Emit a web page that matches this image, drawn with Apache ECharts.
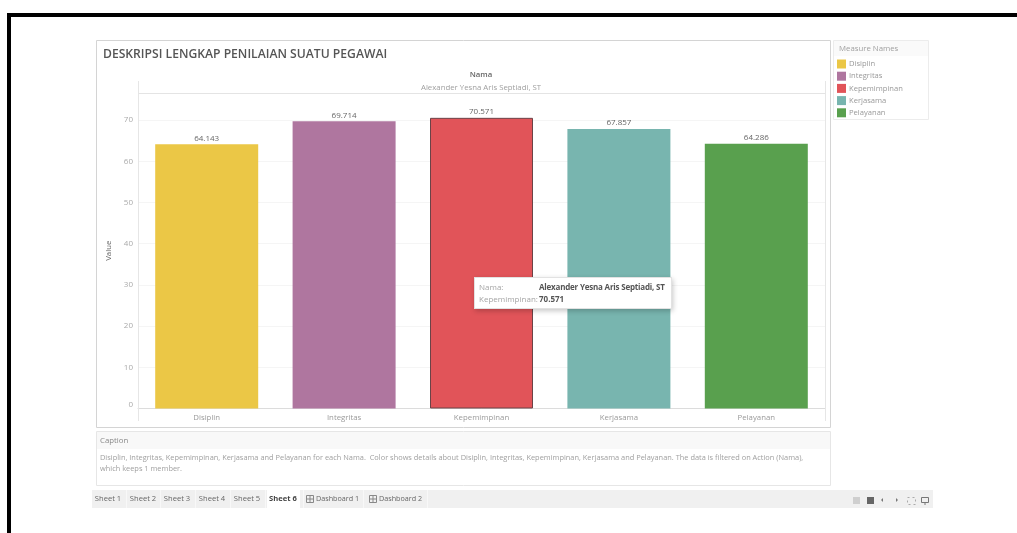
<!DOCTYPE html>
<html><head><meta charset="utf-8">
<style>html,body{margin:0;padding:0;background:#fff}#c{width:1017px;height:533px;filter:blur(0.45px)}</style>
<script src="https://cdn.jsdelivr.net/npm/echarts@6/dist/echarts.min.js"></script>
</head><body><div id="c"></div>
<script>
const categories = ['Disiplin','Integritas','Kepemimpinan','Kerjasama','Pelayanan'];
const values = [64.143,69.714,70.571,67.857,64.286];
const colors = ['#EBC746','#AF769F','#E15459','#78B5AF','#59A04E'];
const person = 'Alexander Yesna Aris Septiadi, ST';
const tabs = ['Sheet 1','Sheet 2','Sheet 3','Sheet 4','Sheet 5','Sheet 6'];
const dashboards = ['Dashboard 1','Dashboard 2'];
const captionLines = [
 'Disiplin, Integritas, Kepemimpinan, Kerjasama and Pelayanan for each Nama.  Color shows details about Disiplin, Integritas, Kepemimpinan, Kerjasama and Pelayanan. The data is filtered on Action (Nama),',
 'which keeps 1 member.'];
const font = '"Open Sans", sans-serif';
const chart = echarts.init(document.getElementById('c'), null, {renderer:'canvas'});

const g = [];
const rect = (x,y,w,h,fill,stroke,z) => g.push({type:'rect',silent:true,z:z||0,shape:{x,y,width:w,height:h},style:{fill:fill||'transparent',stroke:stroke||null,lineWidth:1}});
const line = (x1,y1,x2,y2,stroke,z) => g.push({type:'line',silent:true,z:z||0,shape:{x1,y1,x2,y2},style:{stroke,lineWidth:1}});
const text = (x,y,t,o={}) => g.push({type:'text',silent:true,z:5,x,y,style:{text:t,fill:o.fill||'#9a9a9a',font:(o.weight||'400')+' '+(o.size||8)+'px '+font,align:o.align||'left',verticalAlign:'middle'}});

// page border
rect(7,13,1010,4,'#000'); rect(7,13,4,520,'#000');
// worksheet frame
rect(96.5,40.5,734,387,'#fff','#d4d4d4');
text(103,55,'DESKRIPSI LENGKAP PENILAIAN SUATU PEGAWAI',{size:12.15,weight:'600',fill:'#555'});
text(481,75,'Nama',{align:'center',weight:'600',fill:'#666',size:7.8});
text(481,87.5,person,{align:'center',size:7.8,fill:'#a0a0a0'});
line(138.5,81,138.5,421,'#e6e6e6',1); line(825.5,81,825.5,421,'#e6e6e6',1);
line(138.5,93.5,825.5,93.5,'#e4e4e4',1);
// legend panel
rect(833.5,40.5,95,79,'#fff','#ececec'); rect(834,41,94,15,'#fafafa');
text(839,48.5,'Measure Names',{size:7.8,fill:'#a0a0a0'});
// caption
rect(96.5,431.5,734,54,'#fff','#e6e6e6'); rect(97,432,733,17,'#f8f8f8');
text(100,441,'Caption',{fill:'#888',size:7.8});
captionLines.forEach((t,i)=>text(100,458+i*10.7,t,{size:7.42,fill:'#a0a0a0'}));
// tab bar
rect(92,490,841,18,'#f0f0f0');
const tabX=[108,143,177,212,247,283];
rect(267,490,33,18,'#fff');
tabs.forEach((t,i)=>text(tabX[i],499,t,{align:'center',size:7.6,weight:i===5?'700':'400',fill:i===5?'#444':'#666'}));
[126,160,195,230,265,303,363,427].forEach(x=>line(x+.5,490,x+.5,508,'#f8f8f8'));
[[306,316,dashboards[0]],[369,379,dashboards[1]]].forEach(([ix,tx,t])=>{
  rect(ix+.5,495.5,7,7,null,'#888');line(ix+4,495.5,ix+4,502.5,'#888');line(ix+.5,499,ix+7.5,499,'#888');
  text(tx,499,t,{size:7.2,fill:'#666'});
});
// toolbar icons
rect(853,497,7,7,'#cfcfcf'); rect(867,497,7,7,'#666');
g.push({type:'polygon',silent:true,shape:{points:[[883,498],[883,502],[881,500]]},style:{fill:'#777'}});
g.push({type:'polygon',silent:true,shape:{points:[[896,498],[896,502],[898,500]]},style:{fill:'#777'}});
g.push({type:'rect',silent:true,shape:{x:907.5,y:497.5,width:8,height:7},style:{fill:'transparent',stroke:'#aaa',lineWidth:1,lineDash:[2,3]}});
rect(921.5,497.5,7,5,null,'#777'); line(925,503,925,505,'#777');

const series = categories.map((c,i)=>({
  name:c,type:'bar',stack:'m',barWidth:103,
  data:categories.map((_,j)=> j===i ? (i===2 ? {value:values[i],itemStyle:{borderColor:'#6b4347',borderWidth:1}} : values[i]) : null),
  itemStyle:{color:colors[i]},
  label:{show:true,position:'top',distance:2,fontFamily:font,fontSize:8,color:'#666',formatter:p=>p.value.toFixed(3)},
  emphasis:{disabled:true},animation:false
}));

chart.setOption({
  animation:false,
  textStyle:{fontFamily:font},
  graphic:g,
  grid:{left:138,right:192,top:93,bottom:124.5,containLabel:false},
  legend:{orient:'vertical',left:837,top:59.5,padding:0,itemWidth:9,itemHeight:9,itemGap:3.2,icon:'rect',
    data:categories,selectedMode:false,textStyle:{fontFamily:font,fontSize:7.6,color:'#999',padding:[0,0,0,-2]}},
  xAxis:{type:'category',data:categories,axisTick:{show:false},
    axisLine:{lineStyle:{color:'#dcdcdc'}},
    axisLabel:{fontSize:7.8,color:'#9a9a9a',margin:5,fontFamily:font},splitLine:{show:false}},
  yAxis:{type:'value',min:0,max:76.6,interval:10,name:'Value',nameLocation:'middle',nameGap:20,
    nameTextStyle:{fontSize:7.8,color:'#666',fontFamily:font},
    axisLine:{show:false},axisTick:{show:false},
    axisLabel:{fontSize:8,color:'#aaa',margin:5,showMaxLabel:false,verticalAlignMinLabel:'bottom',fontFamily:font},
    splitLine:{lineStyle:{color:'#f5f5f5'}}},
  tooltip:{trigger:'item',alwaysShowContent:true,showDelay:0,transitionDuration:0,position:[474,277],
    backgroundColor:'#fff',borderColor:'#e2e2e2',borderWidth:1,padding:[3,4],extraCssText:'box-shadow:1px 2px 5px rgba(0,0,0,.22);border-radius:0;width:188px;height:24px;box-sizing:content-box;',
    formatter:p=>'<div style="font:8px/11.5px '+font.replace(/"/g,"'")+';color:#a5a5a5;white-space:nowrap">'
      +'<span style="display:inline-block;width:60px">Nama:</span><b style="color:#555;font-weight:700;letter-spacing:-.2px">'+person+'</b><br>'
      +'<span style="display:inline-block;width:60px">'+p.name+':</span><b style="color:#555;font-weight:700">'+p.value.toFixed(3)+'</b></div>'},
  series
});
chart.dispatchAction({type:'showTip',seriesIndex:2,dataIndex:2});
</script></body></html>
